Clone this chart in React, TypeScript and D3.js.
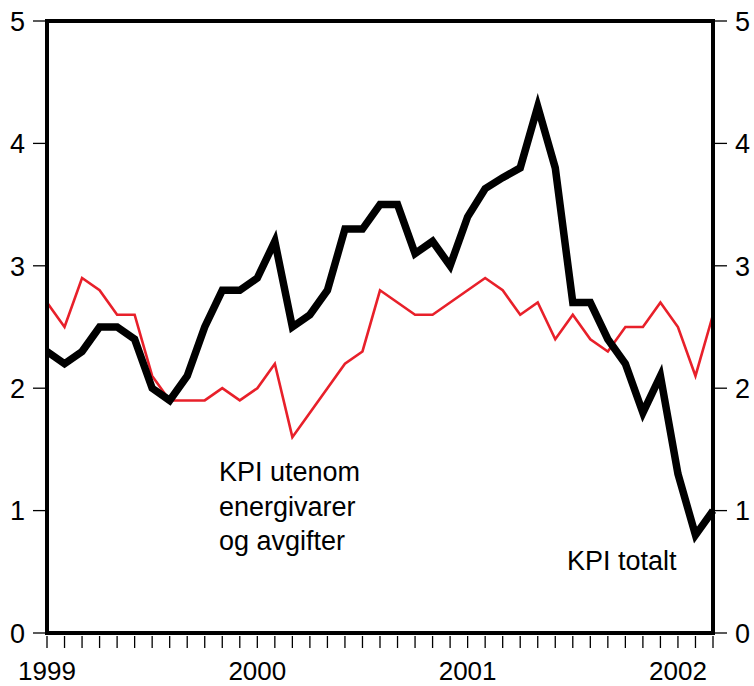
import React from "react";
import * as d3 from "d3";

const months: string[] = [];
for (let y = 1999; y <= 2002; y++) {
  for (let m = 1; m <= 12; m++) {
    if (y === 2002 && m > 3) break;
    months.push(`${y}-${String(m).padStart(2, "0")}`);
  }
}

const kpiTotalt = [
  2.3, 2.2, 2.3, 2.5, 2.5, 2.4, 2.0, 1.9, 2.1, 2.5, 2.8, 2.8,
  2.9, 3.2, 2.5, 2.6, 2.8, 3.3, 3.3, 3.5, 3.5, 3.1, 3.2, 3.0,
  3.4, 3.63, 3.72, 3.8, 4.3, 3.8, 2.7, 2.7, 2.4, 2.2, 1.8, 2.1,
  1.3, 0.8, 1.0,
];

const kpiJae = [
  2.7, 2.5, 2.9, 2.8, 2.6, 2.6, 2.1, 1.9, 1.9, 1.9, 2.0, 1.9,
  2.0, 2.2, 1.6, 1.8, 2.0, 2.2, 2.3, 2.8, 2.7, 2.6, 2.6, 2.7,
  2.8, 2.9, 2.8, 2.6, 2.7, 2.4, 2.6, 2.4, 2.3, 2.5, 2.5, 2.7,
  2.5, 2.1, 2.6,
];

const yTicks = [0, 1, 2, 3, 4, 5];
const yearLabels = ["1999", "2000", "2001", "2002"];
const labelJae = ["KPI utenom", "energivarer", "og avgifter"];
const labelTot = "KPI totalt";

const W = 754;
const H = 686;
const L = 47;
const R = 713;
const T = 21;
const B = 633;
const FONT = "'Liberation Sans', Arial, sans-serif";

export default function App() {
  const x = d3.scalePoint<string>().domain(months).range([L, R]);
  const y = d3.scaleLinear().domain([0, 5]).range([B, T]);
  const line = d3
    .line<number>()
    .x((_, i) => x(months[i]) as number)
    .y((d) => y(d));

  return (
    <svg
      width={W}
      height={H}
      style={{ position: "absolute", left: 0, top: 0, background: "#fff" }}
      fontFamily={FONT}
    >
      {yTicks.map((t) => (
        <g key={t}>
          <line x1={L - 14} x2={L} y1={y(t)} y2={y(t)} stroke="#000" strokeWidth={1.3} />
          <line x1={R} x2={R + 14} y1={y(t)} y2={y(t)} stroke="#000" strokeWidth={1.3} />
          <text x={L - 22} y={y(t)} dy="0.36em" textAnchor="end" fontSize={27}>
            {t}
          </text>
          <text x={R + 22} y={y(t)} dy="0.36em" textAnchor="start" fontSize={27}>
            {t}
          </text>
        </g>
      ))}
      {months.map((m) => (
        <line
          key={m}
          x1={x(m)}
          x2={x(m)}
          y1={B + 3}
          y2={B + 15}
          stroke="#000"
          strokeWidth={1.3}
        />
      ))}
      {yearLabels.map((yr) => (
        <text
          key={yr}
          x={x(`${yr}-01`)}
          y={680}
          textAnchor="middle"
          fontSize={26}
        >
          {yr}
        </text>
      ))}
      <path
        d={line(kpiJae) || ""}
        fill="none"
        stroke="#e8202a"
        strokeWidth={2.6}
        strokeLinejoin="miter"
      />
      <path
        d={line(kpiTotalt) || ""}
        fill="none"
        stroke="#000"
        strokeWidth={7.5}
        strokeLinejoin="miter"
      />
      <rect x={L} y={T} width={R - L} height={B - T} fill="none" stroke="#000" strokeWidth={4} />
      {labelJae.map((s, i) => (
        <text key={s} x={219} y={481 + i * 34.5} fontSize={27}>
          {s}
        </text>
      ))}
      <text x={567} y={570} fontSize={27}>
        {labelTot}
      </text>
    </svg>
  );
}
